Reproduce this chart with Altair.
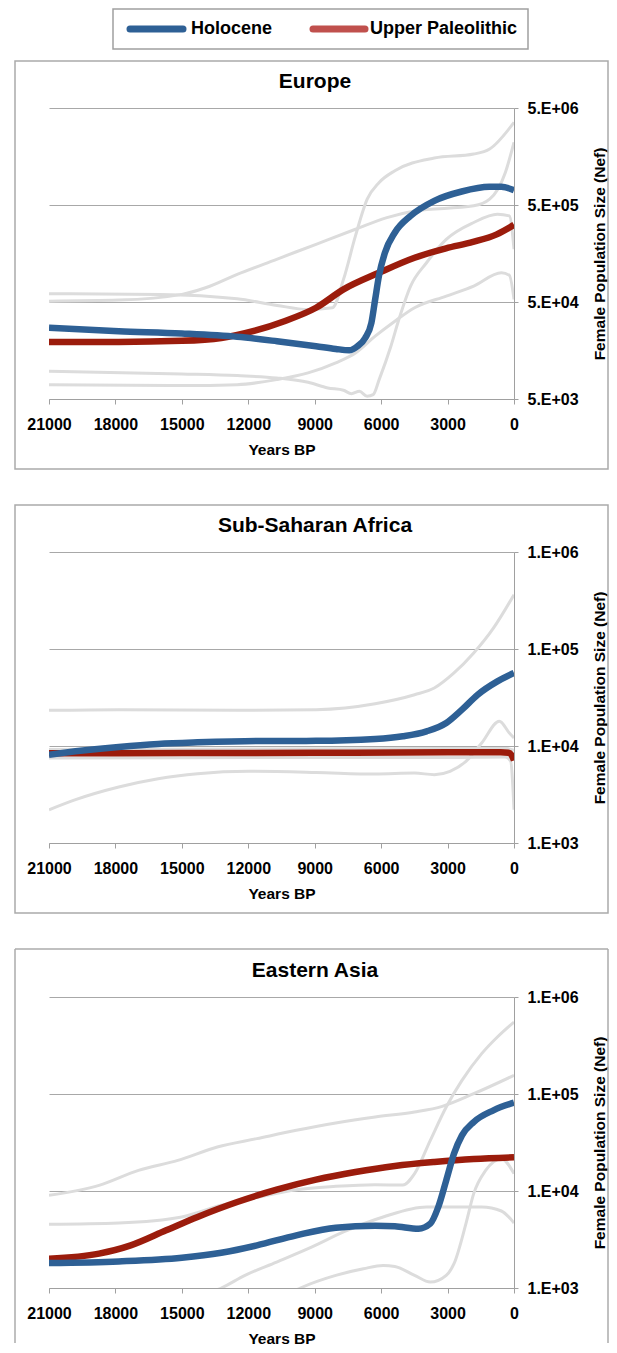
import altair as alt
import pandas as pd

FONT = "Liberation Sans"
SERIES = ["Holocene", "Upper Paleolithic"]
MAIN_COLORS = ["#2E6095", "#9B1C0C"]
LEGEND_COLORS = ["#2E6095", "#C0504D"]
CI_COLOR = "#DCDCDC"
X_TICKS = [21000, 18000, 15000, 12000, 9000, 6000, 3000, 0]
PANEL_TITLES = ["Europe", "Sub-Saharan Africa", "Eastern Asia"]
Y_TICKS_EU = [5e3, 5e4, 5e5, 5e6]
Y_TICKS_AF = [1e3, 1e4, 1e5, 1e6]
Y_TICKS_AS = [1e3, 1e4, 1e5, 1e6]

# ---------------- Europe ----------------
EU_HOL_YR = [21000, 17850, 15000, 12500, 10700, 8940, 8050, 7440, 7070, 6720, 6440, 6270, 6100, 5830, 5380, 4670, 3600, 2360, 1110, 570, 0]
EU_HOL_NE = [27100, 25000, 23700, 21900, 19700, 17500, 16400, 15900, 17500, 21300, 30500, 53200, 92700, 161000, 260000, 386000, 552000, 689000, 770000, 770000, 711000]
EU_UP_YR = [21000, 17850, 15000, 13220, 11790, 10370, 8940, 7700, 6100, 4490, 3070, 1850, 780, 0]
EU_UP_NE = [19400, 19400, 19900, 21300, 25000, 31700, 43600, 67400, 100000, 143000, 179000, 208000, 249000, 312000]
EU_HOL_HI_YR = [21000, 16000, 12500, 10700, 9300, 8200, 7700, 7160, 6630, 6090, 5380, 3600, 1820, 1100, 0]
EU_HOL_HI_NE = [60800, 59900, 54000, 46100, 41900, 43600, 85500, 240000, 574000, 853000, 1127000, 1523000, 1675000, 1888000, 3556000]
EU_UP_HI_YR = [21000, 17850, 15000, 13930, 12500, 10720, 8940, 7160, 5740, 4490, 1820, 1100, 390, 0]
EU_UP_HI_NE = [51000, 52300, 59900, 70100, 96400, 137700, 196800, 281000, 371000, 434000, 490000, 574000, 1083000, 2212000]
EU_HOL_LO_YR = [21000, 15000, 12500, 10720, 9300, 8410, 7700, 7340, 6980, 6630, 6360, 6090, 5560, 5200, 4670, 3950, 3060, 1820, 750, 210, 0]
EU_HOL_LO_NE = [9660, 9070, 8710, 8240, 7430, 6500, 6150, 5680, 6000, 5330, 5540, 7920, 17500, 33000, 73000, 127000, 221000, 330000, 402000, 386000, 175000]
EU_UP_LO_YR = [21000, 15000, 12500, 10720, 9300, 8050, 7160, 6270, 5380, 4490, 3060, 1820, 570, 210, 0]
EU_UP_LO_NE = [7030, 6870, 7030, 7920, 9290, 11800, 14900, 22200, 31700, 43600, 57500, 73000, 100000, 94200, 53200]

# ---------------- Sub-Saharan Africa ----------------
AF_HOL_YR = [21000, 19800, 17850, 16070, 14290, 11610, 8940, 6270, 5020, 3950, 3060, 2350, 1640, 750, 0]
AF_HOL_NE = [8140, 8810, 9770, 10490, 10900, 11270, 11300, 11800, 12590, 14160, 17270, 23700, 33800, 46400, 56600]
AF_UP_YR = [21000, 15000, 9000, 3000, 600, 250, 100, 0]
AF_UP_NE = [8400, 8450, 8500, 8600, 8600, 8500, 8000, 7100]
AF_HOL_HI_YR = [21000, 17850, 12500, 8940, 6270, 4490, 3600, 2710, 1820, 930, 0]
AF_HOL_HI_NE = [23300, 23700, 23300, 23700, 27300, 33800, 39600, 56600, 90900, 164000, 363000]
AF_HOL_LO_YR = [21000, 19800, 17850, 16070, 14290, 11970, 8940, 6270, 4490, 3600, 2890, 2170, 1460, 660, 210, 0]
AF_HOL_LO_NE = [2200, 2800, 3780, 4600, 5180, 5480, 5340, 5140, 5260, 5060, 5480, 6950, 10740, 17960, 13600, 12100]
AF_UP_HI_YR = [21000, 12000, 3000, 300, 0]
AF_UP_HI_NE = [9200, 9300, 9400, 9400, 9000]
AF_UP_LO_YR = [21000, 12000, 3000, 400, 150, 0]
AF_UP_LO_NE = [7500, 7600, 7600, 7700, 7000, 2200]

# ---------------- Eastern Asia ----------------
AS_HOL_YR = [21000, 17850, 15000, 13220, 11610, 9830, 8050, 6270, 5380, 4310, 3780, 3420, 3060, 2710, 2350, 1820, 930, 0]
AS_HOL_NE = [1810, 1880, 2050, 2310, 2750, 3490, 4190, 4390, 4330, 4090, 4610, 6840, 12880, 24260, 37500, 51400, 67900, 81400]
AS_UP_YR = [21000, 18740, 17310, 15710, 14290, 12500, 10720, 8940, 7160, 5380, 3600, 1820, 0]
AS_UP_NE = [2000, 2260, 2750, 3930, 5400, 7700, 10320, 13090, 15700, 18100, 19900, 21380, 22240]
AS_UP_HI_YR = [21000, 18740, 16960, 15180, 13400, 11610, 9830, 8050, 6270, 4490, 3240, 1820, 0]
AS_UP_HI_NE = [9020, 11440, 16330, 20700, 28400, 34650, 42200, 50200, 57900, 65200, 74600, 100700, 155700]
AS_HOL_HI_YR = [21000, 17850, 15000, 13220, 11610, 9830, 8050, 6270, 5020, 4490, 3780, 3060, 2350, 1460, 750, 0]
AS_HOL_HI_NE = [4530, 4680, 5400, 7120, 8540, 10320, 11170, 11620, 11500, 15100, 33300, 73500, 138000, 260600, 387000, 552000]
AS_UP_LO_YR = [14500, 13220, 12150, 10720, 9120, 7700, 5910, 3950, 1460, 570, 0]
AS_UP_LO_NE = [800, 1000, 1350, 1850, 2650, 3780, 5400, 6840, 6840, 6220, 4680]
AS_HOL_LO_YR = [10500, 9650, 8050, 6800, 5910, 5380, 4490, 3780, 3060, 2710, 2170, 1820, 1280, 570, 0]
AS_HOL_LO_NE = [800, 1000, 1350, 1580, 1710, 1670, 1350, 1150, 1350, 1780, 4610, 9390, 16300, 21550, 15100]


def long_df(pairs):
    rows = []
    for name, yrs, nes in pairs:
        for yr, ne in zip(yrs, nes):
            rows.append({"series": name, "year": yr, "ne": ne})
    return pd.DataFrame(rows)


ONE = pd.DataFrame({"k": [0]})
FRAME_COLOR = "#ABABAB"
FR_L, FR_R = -34, 559


def panel(title, main_pairs, ci_pairs, ydomain, yticks, frame_top, frame_bottom,
          closed=True, with_legend=False):
    main_df = long_df(main_pairs)
    ci_df = long_df(ci_pairs)
    x = alt.X(
        "year:Q",
        scale=alt.Scale(domain=[0, 21000], reverse=True, nice=False),
        axis=alt.Axis(values=X_TICKS, format="d", title="Years BP", grid=False,
                      tickSize=5, labelPadding=20, labelBaseline="middle",
                      labelFlush=False, labelOverlap=False,
                      titleY=50, titleBaseline="middle"),
    )
    y = alt.Y(
        "ne:Q",
        scale=alt.Scale(type="log", domain=ydomain, nice=False),
        axis=alt.Axis(orient="right", values=yticks, grid=True,
                      labelExpr="replace(format(datum.value, '.0e'), 'e+', '.E+0')",
                      labelFlush=False, labelOverlap=False,
                      tickSize=4, labelPadding=9,
                      title="Female Population Size (Nef)", titleAngle=270,
                      titleX=85, titleY=145.5, titleBaseline="middle", titleAlign="center"),
    )
    color = alt.Color("series:N", scale=alt.Scale(domain=SERIES, range=MAIN_COLORS), legend=None)

    if closed:
        frames = [alt.Chart(ONE).mark_rect(fillOpacity=0, stroke=FRAME_COLOR, strokeWidth=1.5).encode(
            x=alt.value(FR_L), x2=alt.value(FR_R), y=alt.value(frame_top), y2=alt.value(frame_bottom))]
    else:
        frames = [
            alt.Chart(ONE).mark_rule(color=FRAME_COLOR, strokeWidth=1.5).encode(
                x=alt.value(FR_L), x2=alt.value(FR_R), y=alt.value(frame_top)),
            alt.Chart(ONE).mark_rule(color=FRAME_COLOR, strokeWidth=1.5).encode(
                x=alt.value(FR_L), y=alt.value(frame_top), y2=alt.value(frame_bottom)),
            alt.Chart(ONE).mark_rule(color=FRAME_COLOR, strokeWidth=1.5).encode(
                x=alt.value(FR_R), y=alt.value(frame_top), y2=alt.value(frame_bottom)),
        ]
    ttl = alt.Chart(ONE).mark_text(font=FONT, fontSize=21, fontWeight="bold", color="black",
                                   align="center", baseline="middle").encode(
        x=alt.value(266), y=alt.value(-26), text=alt.value(title)
    )
    ci = alt.Chart(ci_df).mark_line(color=CI_COLOR, strokeWidth=3, interpolate="monotone", clip=True).encode(
        x=x, y=y, detail="series:N"
    )
    red = alt.Chart(main_df).transform_filter(alt.datum.series == SERIES[1]).mark_line(
        strokeWidth=6.5, interpolate="monotone", clip=True).encode(x=x, y=y, color=color)
    blue = alt.Chart(main_df).transform_filter(alt.datum.series == SERIES[0]).mark_line(
        strokeWidth=6.5, interpolate="monotone", clip=True).encode(x=x, y=y, color=color)

    layers = frames + [ttl, ci, red, blue]
    if with_legend:
        lbox = alt.Chart(ONE).mark_rect(fill="white", stroke="#A0A0A0", strokeWidth=1.5).encode(
            x=alt.value(64), x2=alt.value(479), y=alt.value(-99), y2=alt.value(-59))
        sw1 = alt.Chart(ONE).mark_rule(strokeWidth=7, strokeCap="round", color=LEGEND_COLORS[0]).encode(
            x=alt.value(81), x2=alt.value(134), y=alt.value(-79))
        tx1 = alt.Chart(ONE).mark_text(font=FONT, fontSize=18, fontWeight="bold", color="black",
                                       align="left", baseline="middle").encode(
            x=alt.value(142), y=alt.value(-79), text=alt.value(SERIES[0]))
        sw2 = alt.Chart(ONE).mark_rule(strokeWidth=7, strokeCap="round", color=LEGEND_COLORS[1]).encode(
            x=alt.value(264), x2=alt.value(316), y=alt.value(-79))
        tx2 = alt.Chart(ONE).mark_text(font=FONT, fontSize=18, fontWeight="bold", color="black",
                                       align="left", baseline="middle").encode(
            x=alt.value(321), y=alt.value(-79), text=alt.value(SERIES[1]))
        layers += [lbox, sw1, tx1, sw2, tx2]
    return alt.layer(*layers).properties(width=465, height=291)


eu = panel(PANEL_TITLES[0],
           [(SERIES[0], EU_HOL_YR, EU_HOL_NE), (SERIES[1], EU_UP_YR, EU_UP_NE)],
           [("hol_hi", EU_HOL_HI_YR, EU_HOL_HI_NE), ("up_hi", EU_UP_HI_YR, EU_UP_HI_NE),
            ("hol_lo", EU_HOL_LO_YR, EU_HOL_LO_NE), ("up_lo", EU_UP_LO_YR, EU_UP_LO_NE)],
           [5e3, 5e6], Y_TICKS_EU, -47, 361, with_legend=True)
af = panel(PANEL_TITLES[1],
           [(SERIES[0], AF_HOL_YR, AF_HOL_NE), (SERIES[1], AF_UP_YR, AF_UP_NE)],
           [("hol_hi", AF_HOL_HI_YR, AF_HOL_HI_NE), ("up_hi", AF_UP_HI_YR, AF_UP_HI_NE),
            ("hol_lo", AF_HOL_LO_YR, AF_HOL_LO_NE), ("up_lo", AF_UP_LO_YR, AF_UP_LO_NE)],
           [1e3, 1e6], Y_TICKS_AF, -47, 361)
asia = panel(PANEL_TITLES[2],
             [(SERIES[0], AS_HOL_YR, AS_HOL_NE), (SERIES[1], AS_UP_YR, AS_UP_NE)],
             [("hol_hi", AS_HOL_HI_YR, AS_HOL_HI_NE), ("up_hi", AS_UP_HI_YR, AS_UP_HI_NE),
              ("hol_lo", AS_HOL_LO_YR, AS_HOL_LO_NE), ("up_lo", AS_UP_LO_YR, AS_UP_LO_NE)],
             [1e3, 1e6], Y_TICKS_AS, -48, 346, closed=False)

chart = alt.vconcat(eu, af, asia, spacing=34).resolve_scale(
    x="independent", y="independent"
).properties(
    padding={"left": 6, "top": 0, "right": 0, "bottom": -2}
).configure_view(stroke=None).configure_axis(
    labelFont=FONT, titleFont=FONT, labelFontWeight="bold", titleFontWeight="bold",
    labelFontSize=16, titleFontSize=15.5, labelColor="black", titleColor="black",
    domainColor="#A0A0A0", tickColor="#A0A0A0", gridColor="#A8A8A8", gridWidth=1
)

chart.save("out.html", embed_options={"renderer": "svg", "actions": False})
